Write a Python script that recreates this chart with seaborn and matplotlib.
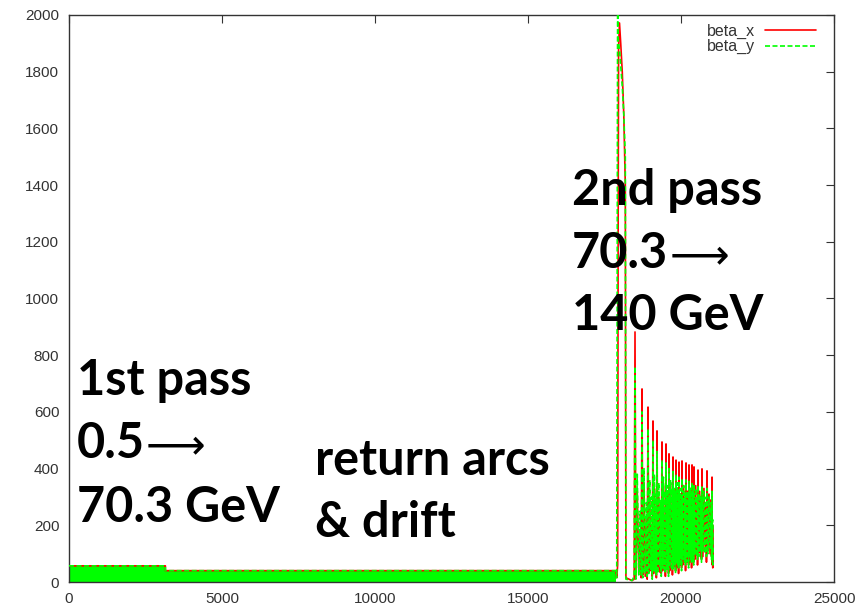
import numpy as np
import pandas as pd
import matplotlib
matplotlib.use("Agg")
import matplotlib.pyplot as plt
import seaborn as sns

# ---------------- data ----------------
# linac / first pass + return arcs: dense band
band_s = [0, 3150, 3150, 17870]
band_top = [57, 57, 40, 40]

# second pass: spike
spike_s = [17870, 17900, 17930, 17945, 17960, 17990, 18030, 18080, 18130, 18180, 18200, 18300, 18400]
spike_bx = [40, 15, 60, 1200, 1890, 1972, 1900, 1800, 1650, 1400, 15, 10, 5]
spike_by = [40, 15, 2100, 1923, 1900, 1880, 1820, 1750, 1650, 1500, 10, 8, 5]

# second pass: decaying oscillations (low, peak, low, bump, low, bump per cell)
osc_s = [18470, 18497, 18525, 18570, 18620, 18665,
         18700, 18726, 18750, 18790, 18830, 18870,
         18895, 18922, 18945, 18980, 19015, 19045,
         19060, 19085, 19105, 19130, 19160, 19185,
         19195, 19216, 19240, 19275, 19310, 19345,
         19355, 19379, 19400, 19425, 19455, 19485,
         19490, 19510, 19528, 19550, 19570, 19590,
         19592, 19608, 19630, 19660, 19690, 19715,
         19720, 19739, 19757, 19780, 19800, 19820,
         19822, 19837, 19855, 19875, 19897, 19918,
         19920, 19935, 19953, 19975, 19995, 20015,
         20018, 20033, 20055, 20085, 20115, 20140,
         20148, 20164, 20182, 20205, 20225, 20245,
         20248, 20262, 20280, 20302, 20322, 20342,
         20345, 20360, 20372, 20388, 20402, 20414,
         20415, 20425, 20450, 20480, 20510, 20535,
         20540, 20556, 20580, 20610, 20640, 20665,
         20670, 20686, 20715, 20750, 20790, 20825,
         20832, 20850, 20880, 20915, 20950, 20985,
         20998, 21014, 21025, 21032, 21038, 21042]
osc_bx = [10, 882, 20, 320, 30, 180,
          15, 681, 25, 350, 20, 220,
          10, 617, 35, 290, 40, 200,
          20, 568, 30, 330, 50, 240,
          15, 533, 45, 300, 35, 260,
          30, 494, 40, 340, 60, 230,
          20, 487, 55, 310, 45, 270,
          30, 452, 40, 350, 70, 250,
          25, 441, 65, 300, 55, 280,
          40, 430, 50, 330, 80, 260,
          30, 423, 75, 310, 60, 290,
          50, 427, 60, 340, 90, 270,
          40, 420, 85, 320, 70, 300,
          60, 413, 70, 330, 100, 280,
          50, 413, 95, 310, 80, 290,
          70, 406, 80, 340, 110, 270,
          60, 395, 105, 320, 90, 300,
          80, 399, 90, 330, 120, 280,
          70, 392, 115, 310, 100, 290,
          90, 370, 60, 200, 50, 100]
osc_by = [20, 760, 10, 380, 25, 250,
          25, 600, 15, 400, 30, 280,
          20, 540, 30, 360, 45, 300,
          10, 500, 40, 380, 35, 310,
          25, 460, 30, 350, 55, 290,
          20, 430, 50, 370, 45, 320,
          30, 420, 40, 340, 65, 300,
          20, 400, 60, 360, 50, 330,
          40, 390, 50, 330, 75, 310,
          30, 380, 70, 350, 60, 320,
          50, 370, 60, 330, 85, 300,
          40, 365, 80, 340, 70, 310,
          60, 360, 70, 320, 95, 300,
          50, 355, 90, 330, 80, 310,
          70, 350, 80, 320, 105, 290,
          60, 345, 100, 330, 90, 300,
          80, 340, 90, 310, 115, 290,
          70, 335, 110, 320, 100, 300,
          90, 330, 100, 300, 120, 280,
          80, 320, 70, 220, 60, 120]

x_ticks = [0, 5000, 10000, 15000, 20000, 25000]
y_ticks = [0, 200, 400, 600, 800, 1000, 1200, 1400, 1600, 1800, 2000]

# ---------------- figure ----------------
sns.set_theme(style="white")
plt.rcParams["font.family"] = ["Liberation Sans", "DejaVu Sans"]

fig = plt.figure(figsize=(8.64, 6.09), dpi=100)
W, H = 864, 609
ax = fig.add_axes([69 / W, 1 - 582 / H, (834 - 69) / W, (582 - 15) / H])

red = "#ff0000"
green = "#00ff00"

ax.fill_between(band_s, 0, band_top, color=green, lw=0, zorder=1)

s_all = band_s + spike_s + osc_s
bx_all = band_top + spike_bx + osc_bx
by_all = band_top + spike_by + osc_by
df = pd.DataFrame({"s": s_all, "beta_x": bx_all, "beta_y": by_all})

sns.lineplot(data=df, x="s", y="beta_x", ax=ax, color=red, lw=1.2,
             estimator=None, sort=False, label="beta_x", zorder=2)
sns.lineplot(data=df, x="s", y="beta_y", ax=ax, color=green, lw=1.2,
             estimator=None, sort=False, label="beta_y", zorder=3,
             linestyle=(0, (3, 1.5)))

ax.set_xlim(0, 25000)
ax.set_ylim(0, 2000)
ax.set_xticks(x_ticks)
ax.set_yticks(y_ticks)
ax.set_xticklabels([str(v) for v in x_ticks])
ax.set_yticklabels([str(v) for v in y_ticks])
ax.set_xlabel("")
ax.set_ylabel("")
ax.tick_params(axis="both", direction="in", length=6, width=0.8,
               top=True, right=True, labelsize=11, colors="#333333",
               pad=7)
for sp in ax.spines.values():
    sp.set_color("#333333")
    sp.set_linewidth(1.0)

leg = ax.legend(loc="upper right", frameon=False, fontsize=11.5,
                markerfirst=False, handlelength=3.2, handletextpad=0.6,
                borderaxespad=0, borderpad=0, labelspacing=0.0,
                bbox_to_anchor=(816 / W, 1 - 24 / H),
                bbox_transform=fig.transFigure)
for t in leg.get_texts():
    t.set_color("#333333")

# overlaid annotations
big = dict(fontsize=35, fontweight="bold", color="black",
           family=["Lato", "DejaVu Sans"], va="baseline", ha="left")
arrow_kw = dict(fontsize=30, fontweight="normal", color="black",
                family=["DejaVu Sans"], va="baseline", ha="left")

def put(px, py, s):
    return fig.text(px / W, 1 - py / H, s, **big)

def put_arrow(txt, py):
    fig.canvas.draw()
    bb = txt.get_window_extent(renderer=fig.canvas.get_renderer())
    fig.text((bb.x1 + 1) / W, 1 - py / H, "\u27f6", **arrow_kw)

put(77, 395, "1st pass")
t1 = put(77, 458, "0.5")
put(77, 522, "70.3 GeV")
put(315, 475, "return arcs")
put(315, 537, "& drift")
put(572, 205, "2nd pass")
t2 = put(572, 268, "70.3")
put(572, 330, "140 GeV")
put_arrow(t1, 458)
put_arrow(t2, 268)

fig.savefig("out.png", dpi=100)
